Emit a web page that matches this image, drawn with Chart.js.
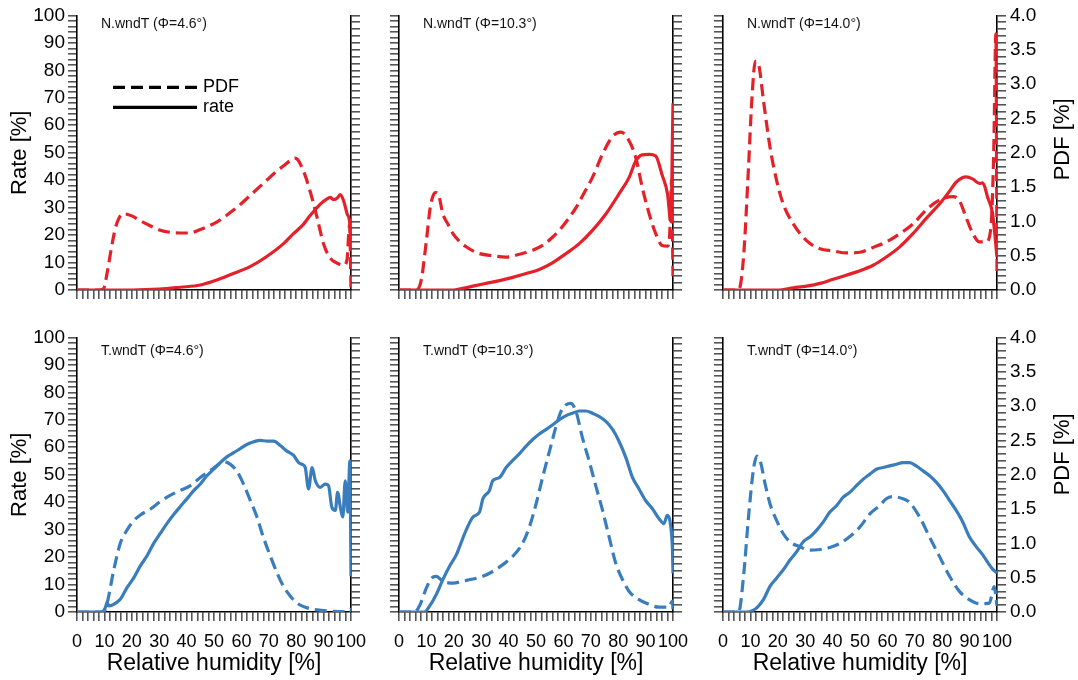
<!DOCTYPE html>
<html>
<head>
<meta charset="utf-8">
<script src="https://cdn.jsdelivr.net/npm/chart.js@4"></script>
<style>
  html, body { margin: 0; padding: 0; background: #fff; }
  #wrap { position: relative; width: 1078px; height: 680px; overflow: hidden; background: #fff; }
  #wrap canvas { position: absolute; }
</style>
</head>
<body>
<div id="wrap"></div>
<script>
// ---- N.wndT, Φ = 4.6° ----
const rhPdfN46 = [0, 8, 9.7, 11, 12.5, 14, 15.5, 17, 20, 23, 26.5, 30.4, 34, 37.7, 41, 45, 48, 51, 54, 57, 60, 63, 66, 69, 72, 75.4, 78, 79.5, 80.5, 82.7, 85, 87.6, 90, 92.5, 95, 97.3, 98.5, 99.5, 100];
const pdfN46   = [0, 0, 0.02, 0.25, 0.6, 0.9, 1.06, 1.11, 1.08, 1.01, 0.94, 0.87, 0.84, 0.83, 0.83, 0.88, 0.93, 0.99, 1.07, 1.16, 1.26, 1.37, 1.48, 1.59, 1.70, 1.81, 1.89, 1.92, 1.90, 1.73, 1.45, 1.06, 0.67, 0.46, 0.39, 0.36, 0.43, 0.95, 0];
const rhRateN46 = [0, 20, 30, 37.7, 45, 51, 57, 63, 69, 75.4, 79, 82.7, 85, 88.8, 91, 92.5, 93.7, 95, 96, 97.3, 98.5, 99.6, 100];
const rateN46   = [0, 0, 0.3, 1, 1.8, 3.6, 6, 8.4, 12, 16.9, 20.5, 24, 27, 31.3, 33, 33.7, 32.9, 33.5, 34.7, 32.5, 28, 24, 17];

// ---- N.wndT, Φ = 10.3° ----
const rhPdfN103 = [0, 6.3, 8.1, 10, 11.4, 12.4, 13.3, 14.5, 16, 18, 19.7, 22, 24.5, 27, 29.4, 34.2, 39, 44, 48.8, 52.4, 55.5, 58.5, 61.5, 64.6, 67.5, 70.6, 74.3, 78, 81, 84, 86.4, 88.8, 91.3, 93.7, 96, 98, 98.8, 99.5, 100];
const pdfN103   = [0, 0, 0.14, 0.72, 1.2, 1.37, 1.42, 1.38, 1.11, 0.95, 0.82, 0.71, 0.63, 0.57, 0.53, 0.50, 0.48, 0.52, 0.58, 0.65, 0.75, 0.87, 1.02, 1.2, 1.41, 1.64, 1.98, 2.24, 2.30, 2.17, 1.93, 1.49, 1.11, 0.82, 0.65, 0.64, 0.82, 1.6, 0.2];
const rhRateN103 = [0, 20, 22, 27, 31.8, 36.7, 41.5, 46.4, 51.2, 56, 61, 65.8, 70.6, 75.5, 80.3, 84, 86.4, 88.8, 91.3, 93.7, 96, 98, 99.2, 100];
const rateN103   = [0, 0, 0.3, 1.4, 2.4, 3.4, 4.6, 6, 7.5, 9.9, 13.3, 16.9, 21.7, 27.7, 35, 41, 47, 49.2, 49.4, 48.8, 42, 35, 25, 68];

// ---- N.wndT, Φ = 14.0° ----
const rhPdfN140 = [0, 5.7, 7.5, 9.3, 10.5, 11.8, 13, 14.8, 17.2, 19.6, 22, 25.7, 30.5, 35.4, 40.2, 45, 50, 54.8, 59.6, 64.5, 69.3, 74, 79, 83.9, 86.3, 88.7, 91.2, 93.6, 96, 97.8, 98.8, 99.6, 100];
const pdfN140   = [0, 0, 0.48, 1.78, 2.75, 3.33, 3.28, 2.75, 2.07, 1.59, 1.25, 0.96, 0.72, 0.60, 0.57, 0.54, 0.55, 0.62, 0.70, 0.82, 0.96, 1.16, 1.31, 1.36, 1.30, 1.06, 0.82, 0.70, 0.70, 0.92, 2.0, 3.73, 0.25];
const rhRateN140 = [0, 20, 25.7, 30.5, 35.4, 40.2, 45, 50, 54.8, 59.6, 64.5, 69.3, 74, 79, 82.7, 85, 87.5, 88.7, 91.2, 93.6, 94.8, 96.6, 98.4, 100];
const rateN140   = [0, 0, 0.8, 1.4, 2.4, 3.9, 5.4, 7, 9, 12, 15.7, 20.5, 25.9, 31.3, 36, 39.2, 41, 41.2, 40.4, 38.8, 39, 33.7, 27.7, 12];

// ---- T.wndT, Φ = 4.6° ----
const rhPdfT46 = [0, 9.7, 11, 13.4, 15.8, 18.2, 20.7, 23, 26.8, 30.4, 34, 37.7, 41.4, 45, 48.7, 52.3, 53.5, 56, 58.4, 60.8, 63.3, 65.7, 68, 70.6, 73, 75.4, 77.9, 80.3, 84, 87.6, 93.7, 98.5, 99.8, 100];
const pdfT46   = [0, 0, 0.13, 0.61, 1.0, 1.19, 1.33, 1.41, 1.5, 1.61, 1.7, 1.77, 1.84, 1.96, 2.06, 2.17, 2.19, 2.15, 2.05, 1.86, 1.62, 1.38, 1.09, 0.81, 0.57, 0.37, 0.23, 0.13, 0.06, 0.03, 0.01, 0.005, 0.04, 0];
const rhRateT46 = [0, 9, 10.3, 11, 11.6, 13.4, 15.8, 18.2, 20.7, 23, 25.5, 28, 30.4, 32.8, 35.3, 37.7, 40.1, 42.6, 45, 47.4, 49.9, 52.3, 54.7, 57.2, 59.6, 62, 64.5, 66.9, 69.3, 71.8, 74.2, 76.6, 79, 80.9, 82.1, 83.3, 84.5, 85.8, 87, 88.8, 90.6, 91.8, 93, 94.3, 95.1, 96.1, 97, 97.9, 98.8, 99.6, 100];
const rateT46   = [0, 0, 1.5, 3.4, 2.2, 2.8, 4.6, 8.8, 12.4, 16.6, 20.4, 25, 28.6, 32.2, 35.5, 38.4, 41.2, 44.2, 46.6, 49.6, 52, 54.4, 56.5, 58, 59.5, 61, 62, 62.5, 62.2, 62.2, 60.6, 58.6, 57.1, 54.4, 53.8, 52.6, 44.8, 52.6, 47.8, 45.4, 46.6, 46, 38.2, 37, 43.6, 38.2, 34.6, 47.8, 36.4, 55, 13];

// ---- T.wndT, Φ = 10.3° ----
const rhPdfT103 = [0, 5.7, 7.5, 10, 11.8, 13.6, 16, 19.7, 23.3, 27, 30.6, 34.2, 37.9, 41.5, 45.1, 47.6, 50, 52.4, 54.9, 57.3, 59.1, 61, 62.7, 64.6, 67, 69.4, 71.8, 74.3, 76.7, 79.1, 81.6, 84, 87.6, 91.3, 94.9, 98.5, 99.8, 100];
const pdfT103   = [0, 0, 0.09, 0.35, 0.49, 0.52, 0.45, 0.42, 0.45, 0.48, 0.52, 0.59, 0.69, 0.81, 1.0, 1.24, 1.57, 1.96, 2.34, 2.70, 2.92, 3.02, 3.04, 2.92, 2.53, 2.2, 1.84, 1.48, 1.09, 0.71, 0.47, 0.30, 0.18, 0.11, 0.07, 0.07, 0.16, 0.02];
const rhRateT103 = [0, 9.3, 11.2, 13.6, 16, 18.4, 20.9, 22, 24.5, 27, 29.4, 30.6, 33, 34.2, 36.7, 39.1, 41.5, 43.9, 46.4, 48.8, 51.2, 53.6, 56.1, 58.5, 61, 63.3, 65.8, 68.2, 70.6, 73, 75.5, 78, 80.3, 82.8, 85.2, 87.6, 90, 92.5, 94.9, 96.7, 97.9, 99.2, 99.8, 100];
const rateT103   = [0, 0, 2.2, 6.4, 11.8, 16.6, 20.8, 23.5, 29.8, 34.6, 36.4, 41.2, 44.2, 47.8, 49, 52.6, 55.2, 57.6, 60.4, 62.8, 64.8, 66.4, 68.2, 70, 71.5, 72.4, 73.2, 73.2, 72.4, 71.2, 69.4, 66.4, 62.2, 56.2, 49, 44.8, 40.6, 37.6, 34, 32.2, 35.2, 31, 22.6, 14];

// ---- T.wndT, Φ = 14.0° ----
const rhPdfT140 = [0, 5.7, 7.5, 9.3, 11.2, 12.4, 13.6, 15.4, 17.2, 19.6, 22, 24.5, 28.1, 31.8, 35.4, 39, 42.7, 46.3, 50, 53.6, 57.2, 59.6, 62, 65.7, 68, 71.8, 75.4, 79, 82.7, 86.3, 89.9, 93.6, 97.2, 99, 100];
const pdfT140   = [0, 0, 0.52, 1.38, 2.10, 2.27, 2.2, 1.86, 1.57, 1.33, 1.14, 1.02, 0.95, 0.90, 0.91, 0.94, 1.0, 1.10, 1.24, 1.43, 1.55, 1.65, 1.68, 1.65, 1.60, 1.38, 1.09, 0.81, 0.52, 0.30, 0.18, 0.12, 0.13, 0.37, 0.09];
const rhRateT140 = [0, 8.7, 10.5, 12.4, 14.8, 17.2, 19.6, 22, 24.5, 26.9, 29.3, 31.8, 34.2, 36.6, 39, 41.5, 43.9, 46.3, 48.7, 51.2, 53.6, 56, 58.4, 60.8, 63.3, 65.7, 68.2, 70.5, 73, 75.4, 77.9, 80.3, 82.7, 85.1, 87.5, 89.9, 92.4, 94.8, 97.2, 98.4, 100];
const rateT140   = [0, 0, 0.4, 1.6, 4.6, 9.4, 12.4, 15.4, 19, 22, 25.6, 27.4, 29.8, 32.8, 36.4, 38.8, 41.8, 43.6, 46, 48.4, 50.2, 52, 52.6, 53.2, 53.8, 54.4, 54.4, 53.2, 51.4, 49.6, 47.2, 44.2, 40.6, 37, 32.8, 27.4, 23.8, 20.8, 17.2, 15.6, 14.2];

// Panel titles and legend text
const panelLabels = ['N.wndT (Φ=4.6°)', 'N.wndT (Φ=10.3°)', 'N.wndT (Φ=14.0°)',
                     'T.wndT (Φ=4.6°)', 'T.wndT (Φ=10.3°)', 'T.wndT (Φ=14.0°)'];
const legendLabels = ['PDF', 'rate'];
const rateTitle = 'Rate [%]';
const pdfTitle = 'PDF [%]';
const rhTitle = 'Relative humidity [%]';

// ---- styling / layout ----
const FONT = "'Liberation Sans', Arial, Helvetica, sans-serif";
const RED = '#e42129';
const BLUE = '#3a7dbd';
const TICK = '#555';
const DASH = [12, 6];
const LINE_W = 3.2;
const PLOT_LEFT = [77, 399, 723];
const PLOT_TOP = [13, 335];
const PLOT_W = 274, PLOT_H = 277;
const PAD_L = 77, PAD_R = 80, PAD_T = 13, PAD_B = 68;

const panels = [
  { col: 0, row: 0, color: RED,  pdfX: rhPdfN46,  pdf: pdfN46,  rateX: rhRateN46,  rate: rateN46,  legend: true },
  { col: 1, row: 0, color: RED,  pdfX: rhPdfN103, pdf: pdfN103, rateX: rhRateN103, rate: rateN103 },
  { col: 2, row: 0, color: RED,  pdfX: rhPdfN140, pdf: pdfN140, rateX: rhRateN140, rate: rateN140 },
  { col: 0, row: 1, color: BLUE, pdfX: rhPdfT46,  pdf: pdfT46,  rateX: rhRateT46,  rate: rateT46 },
  { col: 1, row: 1, color: BLUE, pdfX: rhPdfT103, pdf: pdfT103, rateX: rhRateT103, rate: rateT103 },
  { col: 2, row: 1, color: BLUE, pdfX: rhPdfT140, pdf: pdfT140, rateX: rhRateT140, rate: rateT140 }
];

// Draws the in-panel caption, the line-style key and the right-hand axis title
const panelText = {
  id: 'panelText',
  afterDraw(chart, args, opts) {
    const { ctx, chartArea: a } = chart;
    ctx.save();
    ctx.fillStyle = '#111';
    ctx.textBaseline = 'middle';
    ctx.textAlign = 'left';
    ctx.font = `14px ${FONT}`;
    ctx.fillText(opts.label, a.left + 24, a.top + opts.labelDy);

    if (opts.legend) {
      ctx.strokeStyle = '#000';
      ctx.lineWidth = LINE_W;
      const x0 = a.left + 36, x1 = a.left + 120;
      const ys = [a.top + 72, a.top + 92];
      ctx.setLineDash(DASH);
      ctx.beginPath(); ctx.moveTo(x0, ys[0]); ctx.lineTo(x1, ys[0]); ctx.stroke();
      ctx.setLineDash([]);
      ctx.beginPath(); ctx.moveTo(x0, ys[1]); ctx.lineTo(x1, ys[1]); ctx.stroke();
      ctx.fillStyle = '#000';
      ctx.font = `18px ${FONT}`;
      ctx.fillText(legendLabels[0], x1 + 6, ys[0]);
      ctx.fillText(legendLabels[1], x1 + 6, ys[1]);
    }

    if (opts.pdfTitle) {
      ctx.translate(a.right + 66, a.top + opts.pdfDy);
      ctx.rotate(-Math.PI / 2);
      ctx.textAlign = 'center';
      ctx.fillStyle = '#000';
      ctx.font = `22px ${FONT}`;
      ctx.fillText(pdfTitle, 0, 0);
    }
    ctx.restore();
  }
};

function toPoints(xs, ys) {
  return xs.map((x, i) => ({ x: x, y: ys[i] }));
}

const wrap = document.getElementById('wrap');

panels.forEach((p, idx) => {
  const canvas = document.createElement('canvas');
  const w = PAD_L + PLOT_W + PAD_R;
  const h = PAD_T + PLOT_H + PAD_B;
  canvas.width = w; canvas.height = h;
  canvas.style.width = w + 'px'; canvas.style.height = h + 'px';
  canvas.style.left = (PLOT_LEFT[p.col] - PAD_L) + 'px';
  canvas.style.top = (PLOT_TOP[p.row] - PAD_T) + 'px';
  wrap.appendChild(canvas);

  const showLeft = p.col === 0;
  const showRight = p.col === 2;
  const showX = p.row === 1;

  const gridStyle = {
    drawOnChartArea: false,
    drawTicks: true,
    tickLength: 9,
    color: TICK,
    lineWidth: 1.6
  };
  const borderStyle = { display: true, color: '#000', width: 1.6 };

  new Chart(canvas, {
    type: 'line',
    data: {
      datasets: [
        {
          label: legendLabels[0],
          data: toPoints(p.pdfX, p.pdf),
          yAxisID: 'y1',
          borderColor: p.color,
          borderWidth: LINE_W,
          borderDash: DASH,
          pointRadius: 0,
          cubicInterpolationMode: 'monotone',
          fill: false
        },
        {
          label: legendLabels[1],
          data: toPoints(p.rateX, p.rate),
          yAxisID: 'y',
          borderColor: p.color,
          borderWidth: LINE_W,
          pointRadius: 0,
          cubicInterpolationMode: 'monotone',
          fill: false
        }
      ]
    },
    options: {
      responsive: false,
      animation: false,
      events: [],
      layout: { padding: { top: PAD_T, left: 0, right: 0, bottom: 0 } },
      plugins: {
        legend: { display: false },
        tooltip: { enabled: false },
        panelText: {
          label: panelLabels[idx],
          labelDy: p.row === 0 ? 9 : 14,
          legend: !!p.legend,
          pdfTitle: showRight,
          pdfDy: p.row === 0 ? 124 : 117
        }
      },
      scales: {
        x: {
          type: 'linear',
          position: 'bottom',
          min: 0, max: 100,
          afterFit(s) { s.height = PAD_B; },
          grid: gridStyle,
          border: borderStyle,
          ticks: {
            stepSize: 2,
            autoSkip: false,
            maxRotation: 0, minRotation: 0,
            padding: 10,
            color: '#000',
            font: { family: FONT, size: 18 },
            callback: (v) => (showX && v % 10 === 0) ? String(v) : ''
          },
          title: {
            display: showX,
            text: rhTitle,
            color: '#000',
            font: { family: FONT, size: 23 },
            padding: { top: 0, bottom: 3 }
          }
        },
        y: {
          type: 'linear',
          position: 'left',
          min: 0, max: 100,
          afterFit(s) { s.width = PAD_L; },
          grid: gridStyle,
          border: borderStyle,
          ticks: {
            stepSize: 2,
            autoSkip: false,
            padding: 3,
            color: '#000',
            font: { family: FONT, size: 19 },
            callback: (v) => (showLeft && v % 10 === 0) ? String(v) : ''
          },
          title: {
            display: showLeft,
            text: rateTitle,
            color: '#000',
            font: { family: FONT, size: 22 },
            padding: { top: 7, bottom: 0 }
          }
        },
        y1: {
          type: 'linear',
          position: 'right',
          min: 0, max: 4,
          afterFit(s) { s.width = PAD_R; },
          grid: gridStyle,
          border: borderStyle,
          ticks: {
            stepSize: 0.1,
            autoSkip: false,
            padding: 4,
            color: '#000',
            font: { family: FONT, size: 19 },
            callback: (v) => {
              const t = Math.round(v * 10);
              return (showRight && t % 5 === 0) ? (t / 10).toFixed(1) : '';
            }
          }
        }
      }
    },
    plugins: [panelText]
  });
});
</script>
</body>
</html>
